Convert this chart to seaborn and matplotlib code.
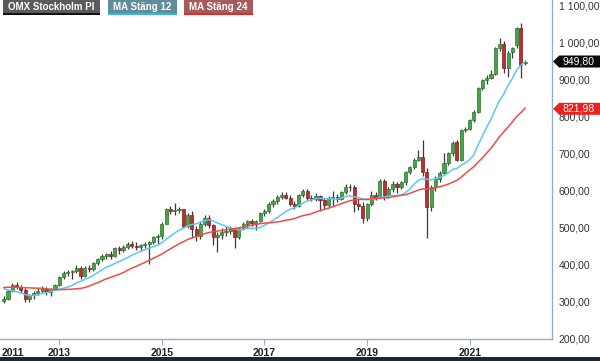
import pandas as pd
import seaborn as sns
import matplotlib.pyplot as plt
import numpy as np
import matplotlib.transforms as mtransforms
from matplotlib.patches import Rectangle, Polygon
from matplotlib.ticker import FuncFormatter

sns.set_style("white")
plt.rcParams["font.family"] = ["Liberation Sans", "DejaVu Sans"]

# monthly candles, Dec 2011 .. Feb 2022
months = pd.date_range("2011-12-01", "2022-02-01", freq="MS")
opens = [302, 309, 330, 346, 341, 333, 308, 318, 325, 331, 334, 328, 335,
         346, 368, 378, 381, 383, 392, 370, 392, 388, 405, 416, 425,
         430, 424, 445, 440, 448, 458, 451, 449, 454, 456, 462, 475,
         477, 512, 550, 545, 548, 550, 506, 535, 496, 478, 512, 528,
         508, 475, 482, 490, 493, 497, 475, 500, 512, 518, 514, 518,
         540, 546, 565, 572, 583, 590, 582, 565, 560, 588, 600, 582,
         579, 586, 575, 562, 580, 583, 578, 597, 612, 610, 565, 560,
         527, 565, 588, 585, 628, 590, 605, 620, 610, 624, 651, 665,
         684, 692, 650, 557, 610, 632, 648, 675, 703, 733, 684, 765,
         768, 792, 814, 878, 900, 906, 915, 986, 998, 932, 976, 995,
         1040, 945]
highs = [315, 333, 352, 354, 346, 337, 322, 330, 337, 343, 340, 338, 349,
         371, 383, 387, 387, 399, 396, 396, 399, 408, 420, 431, 433,
         439, 448, 451, 453, 462, 466, 462, 458, 463, 465, 478, 485,
         515, 555, 560, 568, 556, 552, 540, 545, 505, 518, 535, 535,
         512, 490, 500, 505, 505, 503, 503, 515, 522, 525, 522, 542,
         552, 570, 578, 588, 598, 598, 590, 572, 591, 606, 606, 588,
         595, 590, 582, 586, 600, 592, 600, 618, 620, 616, 578, 570,
         568, 600, 598, 632, 632, 612, 626, 624, 628, 655, 668, 688,
         711, 738, 662, 615, 640, 655, 702, 706, 735, 738, 768, 772,
         795, 818, 880, 902, 912, 928, 990, 1013, 1005, 978, 990, 1042,
         1054, 955]
lows = [296, 305, 328, 336, 325, 300, 301, 309, 320, 324, 320, 316, 332,
        343, 362, 370, 363, 379, 361, 367, 381, 384, 400, 411, 415,
        417, 421, 431, 435, 444, 447, 440, 437, 445, 402, 457, 458,
        470, 510, 537, 535, 540, 500, 500, 472, 466, 470, 505, 500,
        455, 435, 470, 478, 485, 445, 470, 495, 500, 505, 495, 515,
        532, 540, 558, 565, 578, 578, 560, 550, 557, 585, 575, 572,
        572, 545, 552, 558, 560, 570, 575, 592, 600, 543, 548, 514,
        520, 560, 575, 582, 575, 580, 598, 595, 605, 615, 645, 660,
        680, 640, 474, 545, 600, 625, 645, 670, 695, 680, 680, 758,
        765, 785, 810, 872, 890, 902, 912, 978, 920, 908, 960, 985,
        905, 940]
closes = [309, 330, 346, 341, 333, 308, 318, 325, 331, 334, 328, 335, 346,
          368, 378, 381, 383, 392, 370, 392, 388, 405, 416, 425, 430,
          424, 445, 440, 448, 458, 451, 449, 454, 456, 462, 475, 477,
          512, 550, 545, 548, 550, 506, 535, 496, 478, 512, 528, 508,
          475, 482, 490, 493, 497, 475, 500, 512, 518, 514, 518, 540,
          546, 565, 572, 583, 590, 582, 565, 560, 588, 600, 582, 579,
          586, 575, 562, 580, 583, 578, 597, 612, 610, 565, 560, 527,
          565, 588, 585, 628, 590, 605, 620, 610, 624, 651, 665, 684,
          692, 650, 557, 610, 632, 648, 675, 703, 730, 684, 765, 768,
          792, 814, 878, 900, 906, 915, 986, 998, 932, 973, 986, 1040,
          940, 949.8]
# closes Jan 2010 .. Nov 2011, only to warm up the moving averages
hist_close = [315, 325, 345, 355, 330, 325, 340, 335, 350, 355, 360, 370,
              375, 372, 368, 372, 360, 350, 330, 300, 285, 310, 300]

year_ticks = ["2013", "2015", "2017", "2019", "2021"]
first_year = "2011"
legend_labels = ["OMX Stockholm PI", "MA Stäng 12", "MA Stäng 24"]
price_tag = 949.80
ma24_tag = 821.98


def sv_num(v, pos=None):
    return f"{v:,.2f}".replace(",", " ").replace(".", ",")


all_close = pd.Series(hist_close + closes, dtype=float)
skip = len(hist_close)
df = pd.DataFrame({"idx": np.arange(len(closes)), "open": opens, "high": highs,
                   "low": lows, "close": closes})
df["ma12"] = all_close.rolling(12).mean().iloc[skip:].to_numpy()
df["ma24"] = all_close.rolling(24).mean().iloc[skip:].to_numpy()
df["bottom"] = df[["open", "close"]].min(axis=1)
df["height"] = (df["close"] - df["open"]).abs().clip(lower=1.5)
up = df["close"] >= df["open"]

W, H = 600, 361
fig = plt.figure(figsize=(W / 100, H / 100), dpi=100)
ax = fig.add_axes([0, 22 / H, 551.7 / W, 339 / H])

# candles
ax.vlines(df["idx"], df["low"], df["high"], color="#3a3a3a", lw=0.9, zorder=2)
ax.bar(df.loc[up, "idx"], df.loc[up, "height"], bottom=df.loc[up, "bottom"], width=0.72,
       color="#47a447", edgecolor="#2f6f2f", lw=0.5, zorder=3)
ax.bar(df.loc[~up, "idx"], df.loc[~up, "height"], bottom=df.loc[~up, "bottom"], width=0.72,
       color="#b8302f", edgecolor="#7a1f1f", lw=0.5, zorder=3)

# moving averages
sns.lineplot(data=df, x="idx", y="ma12", color="#5cc8f0", lw=1.1, ax=ax, zorder=4)
sns.lineplot(data=df, x="idx", y="ma24", color="#f24a4a", lw=1.1, ax=ax, zorder=4)

ax.set_xlim(-0.87, 128.2)
ax.set_ylim(200, 1116)
ax.set_xlabel("")
ax.set_ylabel("")

tick_pos = [months.get_loc(pd.Timestamp(f"{y}-01-01")) for y in year_ticks]
ax.set_xticks(tick_pos)
ax.set_xticklabels(year_ticks, fontsize=7.5, fontweight="bold", color="#222222")
ax.tick_params(axis="x", length=4, width=0.8, color="#8fb0c8", pad=2.5, bottom=True)
trans = mtransforms.blended_transform_factory(ax.transData, ax.transAxes)
first_pos = 13 / 4.275 - 0.87
ax.text(first_pos, -(9.5 / 339), first_year, transform=trans, ha="center", va="top",
        fontsize=7.5, fontweight="bold", color="#222222")

ax.yaxis.tick_right()
ax.set_yticks(np.arange(200, 1101, 100))
ax.yaxis.set_major_formatter(FuncFormatter(sv_num))
ax.tick_params(axis="y", length=0, pad=5, labelsize=7.5, labelcolor="#333333")

for side in ["top", "left"]:
    ax.spines[side].set_visible(False)
for side in ["right", "bottom"]:
    ax.spines[side].set_color("#8fb0c8")
    ax.spines[side].set_linewidth(1.0)

# value tags on the right
tag_trans = mtransforms.blended_transform_factory(ax.transAxes, ax.transData)
half = 6 / 0.37
x_tip, x_body, x_end = 1.0025, 1.0135, 1.09
for val, col in [(ma24_tag, "#e8221f"), (price_tag, "#0a0a0a")]:
    pts = [(x_tip, val), (x_body, val + half), (x_end, val + half),
           (x_end, val - half), (x_body, val - half)]
    ax.add_patch(Polygon(pts, closed=True, transform=tag_trans, clip_on=False,
                         facecolor=col, edgecolor="none", zorder=10))
    ax.text((x_body + x_end) / 2 - 0.003, val, sv_num(val), transform=tag_trans,
            ha="center", va="center", fontsize=7.5, color="white", zorder=11, clip_on=False)

# legend boxes along the top
def px_box(x0, x1, y0, y1, color):
    fig.add_artist(Rectangle((x0 / W, 1 - y1 / H), (x1 - x0) / W, (y1 - y0) / H,
                             transform=fig.transFigure, facecolor=color, edgecolor="none"))

boxes = [(3, 100, "#5b5b5b", "#111111"), (108, 177, "#5f8d99", "#2db6e6"),
         (184, 253, "#a65c5c", "#e8262b")]
for label, (x0, x1, fill, line) in zip(legend_labels, boxes):
    px_box(x0, x1, 0, 13.3, fill)
    px_box(x0, x1, 13.3, 14.8, line)
    fig.text((x0 + x1) / 2 / W, 1 - 6.8 / H, label, ha="center", va="center",
             fontsize=7, fontweight="bold", color="white")

# dark strip at the very bottom
px_box(0, W, H - 4, H, "#1d2836")

fig.savefig("out.png", dpi=100)
